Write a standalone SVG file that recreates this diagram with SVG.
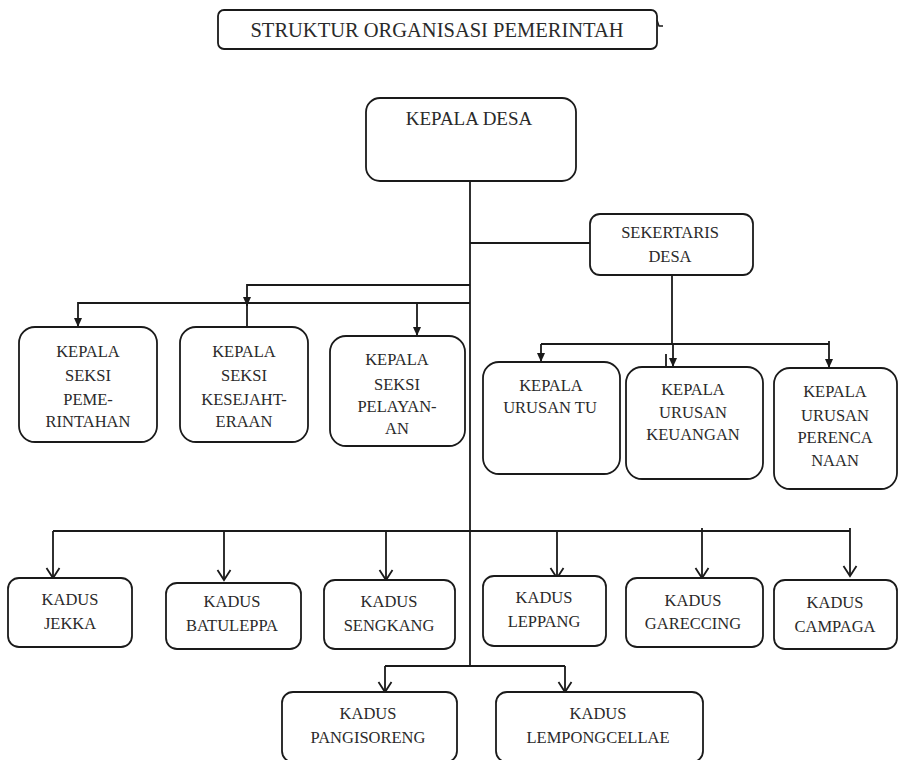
<svg xmlns="http://www.w3.org/2000/svg" width="900" height="760" viewBox="0 0 900 760">
<defs>
<style>
.box{fill:#fff;stroke:#1a1a1a;stroke-width:1.8}
.t{font-family:"Liberation Serif","Times New Roman",serif;font-size:16.5px;fill:#2a2a2a;text-anchor:middle}
.big{font-size:19px}
.ttl{font-size:20.5px}
.c{fill:none;stroke:#1a1a1a;stroke-width:1.8}
.f{marker-end:url(#tri)}
.v{marker-end:url(#vee)}
</style>
<marker id="tri" markerUnits="userSpaceOnUse" markerWidth="12" markerHeight="12" viewBox="0 0 12 12" refX="11" refY="6" orient="auto">
<path d="M2 2 L11 6 L2 10 Z" fill="#1a1a1a"/>
</marker>
<marker id="vee" markerUnits="userSpaceOnUse" markerWidth="14" markerHeight="16" viewBox="0 0 14 16" refX="12" refY="8" orient="auto">
<path d="M2 1.5 L12 8 L2 14.5" fill="none" stroke="#1a1a1a" stroke-width="1.8"/>
</marker>
</defs>

<g id="title">
<rect class="box" x="218" y="10" width="439" height="39" rx="6"/>
<path d="M657 20 L659 26 L663 26" fill="none" stroke="#1a1a1a" stroke-width="1.4"/>
<text class="t ttl" x="437" y="37">STRUKTUR ORGANISASI PEMERINTAH</text>
</g>

<g id="connectors">
<path class="c" d="M470 181 V666"/>
<path class="c" d="M470 243 H590"/>
<path class="c f" d="M470 285 H247 V306"/>
<path class="c" d="M247 304 V327"/>
<path class="c f" d="M470 303 H78 V327"/>
<path class="c f" d="M417 303 V336"/>
<path class="c" d="M672 275 V344"/>
<path class="c" d="M541 344 H829"/>
<path class="c f" d="M541 344 V362"/>
<path class="c f" d="M673 344 V367"/>
<path class="c" d="M666 354 V367"/>
<path class="c f" d="M829 341 V368"/>
<path class="c" d="M53 531 H850"/>
<path class="c v" d="M53 531 V578"/>
<path class="c v" d="M224 531 V580"/>
<path class="c v" d="M386 531 V580"/>
<path class="c v" d="M557 531 V578"/>
<path class="c v" d="M702 528 V578"/>
<path class="c v" d="M850 528 V576"/>
<path class="c" d="M385 666 H565"/>
<path class="c v" d="M385 666 V692"/>
<path class="c v" d="M565 666 V692"/>
</g>

<g id="kepala-desa">
<rect class="box" x="366" y="98" width="210" height="83" rx="14"/>
<text class="t big" x="469" y="125">KEPALA DESA</text>
</g>

<g id="sekertaris-desa">
<rect class="box" x="590" y="214" width="163" height="61" rx="10"/>
<text class="t" x="670" y="238">SEKERTARIS</text>
<text class="t" x="670" y="262">DESA</text>
</g>

<g id="kasi-pemerintahan">
<rect class="box" x="19" y="327" width="138" height="115" rx="16"/>
<text class="t" x="88" y="357">KEPALA</text>
<text class="t" x="88" y="381">SEKSI</text>
<text class="t" x="88" y="405">PEME-</text>
<text class="t" x="88" y="427">RINTAHAN</text>
</g>

<g id="kasi-kesejahteraan">
<rect class="box" x="180" y="327" width="128" height="115" rx="16"/>
<text class="t" x="244" y="357">KEPALA</text>
<text class="t" x="244" y="381">SEKSI</text>
<text class="t" x="244" y="405">KESEJAHT-</text>
<text class="t" x="244" y="427">ERAAN</text>
</g>

<g id="kasi-pelayanan">
<rect class="box" x="330" y="336" width="135" height="110" rx="16"/>
<text class="t" x="397" y="365">KEPALA</text>
<text class="t" x="397" y="390">SEKSI</text>
<text class="t" x="397" y="412">PELAYAN-</text>
<text class="t" x="397" y="434">AN</text>
</g>

<g id="kaur-tu">
<rect class="box" x="483" y="362" width="137" height="112" rx="16"/>
<text class="t" x="551" y="391">KEPALA</text>
<text class="t" x="550" y="413">URUSAN TU</text>
</g>

<g id="kaur-keuangan">
<rect class="box" x="626" y="367" width="137" height="112" rx="16"/>
<text class="t" x="693" y="395">KEPALA</text>
<text class="t" x="693" y="418">URUSAN</text>
<text class="t" x="693" y="440">KEUANGAN</text>
</g>

<g id="kaur-perencanaan">
<rect class="box" x="774" y="368" width="123" height="121" rx="16"/>
<text class="t" x="835" y="397">KEPALA</text>
<text class="t" x="835" y="421">URUSAN</text>
<text class="t" x="835" y="443">PERENCA</text>
<text class="t" x="835" y="466">NAAN</text>
</g>

<g id="kadus-jekka">
<rect class="box" x="8" y="578" width="124" height="69" rx="11"/>
<text class="t" x="70" y="605">KADUS</text>
<text class="t" x="70" y="629">JEKKA</text>
</g>

<g id="kadus-batuleppa">
<rect class="box" x="166" y="583" width="135" height="66" rx="11"/>
<text class="t" x="232" y="607">KADUS</text>
<text class="t" x="232" y="631">BATULEPPA</text>
</g>

<g id="kadus-sengkang">
<rect class="box" x="324" y="580" width="131" height="69" rx="11"/>
<text class="t" x="389" y="607">KADUS</text>
<text class="t" x="389" y="631">SENGKANG</text>
</g>

<g id="kadus-leppang">
<rect class="box" x="483" y="576" width="123" height="70" rx="11"/>
<text class="t" x="544" y="603">KADUS</text>
<text class="t" x="544" y="627">LEPPANG</text>
</g>

<g id="kadus-garecing">
<rect class="box" x="626" y="578" width="137" height="69" rx="11"/>
<text class="t" x="693" y="606">KADUS</text>
<text class="t" x="693" y="629">GARECCING</text>
</g>

<g id="kadus-campaga">
<rect class="box" x="774" y="580" width="123" height="69" rx="11"/>
<text class="t" x="835" y="608">KADUS</text>
<text class="t" x="835" y="632">CAMPAGA</text>
</g>

<g id="kadus-pangisoreng">
<rect class="box" x="282" y="692" width="175" height="70" rx="11"/>
<text class="t" x="368" y="719">KADUS</text>
<text class="t" x="368" y="743">PANGISORENG</text>
</g>

<g id="kadus-lempongcellae">
<rect class="box" x="496" y="692" width="207" height="70" rx="11"/>
<text class="t" x="598" y="719">KADUS</text>
<text class="t" x="598" y="743">LEMPONGCELLAE</text>
</g>
</svg>
